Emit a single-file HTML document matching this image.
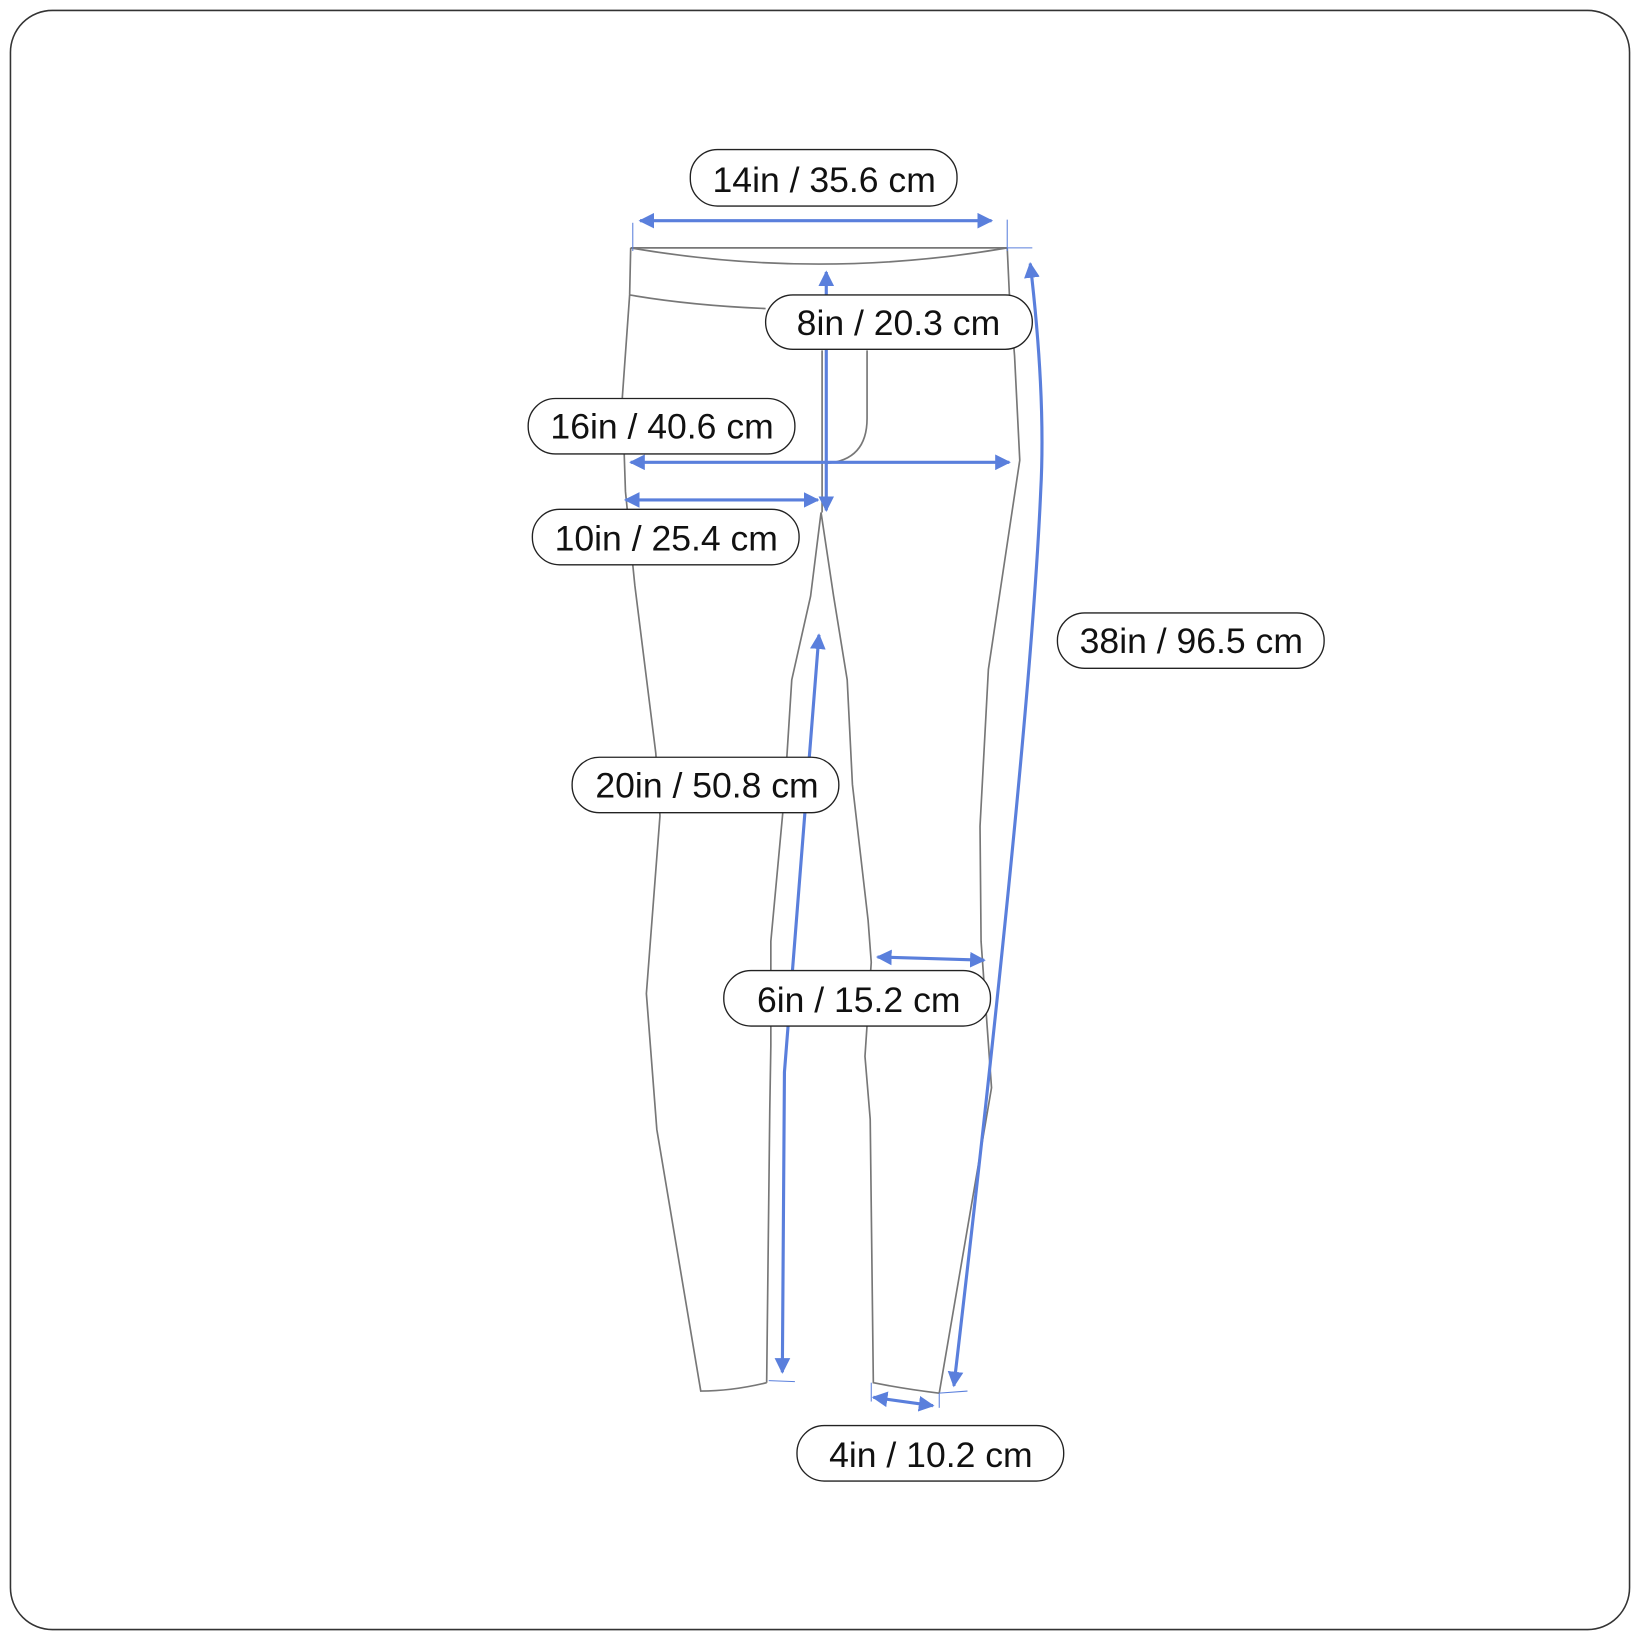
<!DOCTYPE html>
<html><head><style>
html,body{margin:0;padding:0;background:#fff;}
svg{display:block;}
text{font-family:"Liberation Sans",sans-serif;font-size:34px;fill:#111;text-anchor:middle;dominant-baseline:central;}
</style></head><body>
<svg width="1640" height="1640" viewBox="0 0 1568 1568" xmlns="http://www.w3.org/2000/svg">
<defs>
<marker id="a" viewBox="0 0 10 10" refX="9" refY="5" markerWidth="5" markerHeight="5" orient="auto-start-reverse" markerUnits="strokeWidth">
<path d="M0,0 L10,5 L0,10 z" fill="#5a7fdc"/></marker>
</defs>
<rect x="10" y="10" width="1548" height="1548" rx="40" fill="#fff" stroke="#333" stroke-width="1.5"/>
<g fill="none" stroke="#777" stroke-width="1.6">
<line x1="603" y1="237" x2="963" y2="237"/>
<path d="M603,237 Q783,268 963,237"/>
<path d="M603,237 L602,282 L595,380 L598,470 L607,560 L627,720 L631,780 L618,950 L628,1080 L670,1330 Q700,1330 733,1322"/>
<path d="M733,1322 L736,1060 L737,1000 L737,900 L750,760 L757,650 L775,570 L785,490 L797,570 L810,650 L815,750 L830,880 L833,920 L827,1010 L832,1070 L835,1322 Q865,1328 898,1332"/>
<path d="M898,1332 L948,1040 L938,900 L937,790 L945,640 L975,440 L970,340 L965,280 L963,237"/>
<path d="M602,282 Q660,292 732,295"/>
<line x1="786" y1="335" x2="786" y2="490"/>
<path d="M829,335 L829,400 Q829,440 790,443"/>
</g>
<g fill="none" stroke="#5a7fdc" stroke-width="3">
<line x1="612" y1="211" x2="948" y2="211" marker-start="url(#a)" marker-end="url(#a)"/>
<line x1="790" y1="260" x2="790" y2="488" marker-start="url(#a)" marker-end="url(#a)"/>
<line x1="603" y1="442" x2="965" y2="442" marker-start="url(#a)" marker-end="url(#a)"/>
<line x1="598" y1="478" x2="782" y2="478" marker-start="url(#a)" marker-end="url(#a)"/>
<path d="M985,252 Q1000,380 995,470 Q985,700 912,1325" marker-start="url(#a)" marker-end="url(#a)"/>
<path d="M783,607 L750,1025 L748,1312" marker-start="url(#a)" marker-end="url(#a)"/>
<line x1="839" y1="915" x2="941" y2="918" marker-start="url(#a)" marker-end="url(#a)"/>
<line x1="835" y1="1336" x2="892" y2="1344" marker-start="url(#a)" marker-end="url(#a)"/>
</g>
<g stroke="#5a7fdc" stroke-width="1">
<line x1="605" y1="213" x2="605" y2="240"/>
<line x1="963" y1="210" x2="963" y2="240"/>
<line x1="963" y1="237" x2="987" y2="237"/>
<line x1="898" y1="1332" x2="925" y2="1330"/>
<line x1="735" y1="1320" x2="760" y2="1321"/>
<line x1="833" y1="1322" x2="833" y2="1340"/>
<line x1="898" y1="1332" x2="898" y2="1346"/>
</g>
<g fill="#fff" stroke="#222" stroke-width="1.3">
<rect x="660" y="143" width="255" height="54" rx="26"/>
<rect x="732" y="282" width="255" height="52" rx="26"/>
<rect x="505" y="381" width="255" height="53" rx="26"/>
<rect x="509" y="487" width="255" height="53" rx="26"/>
<rect x="1011" y="586" width="255" height="53" rx="26"/>
<rect x="547" y="724" width="255" height="53" rx="26"/>
<rect x="692" y="928" width="255" height="53" rx="26"/>
<rect x="762" y="1363" width="255" height="53" rx="26"/>
</g>
<text x="788" y="172">14in / 35.6 cm</text>
<text x="859" y="309">8in / 20.3 cm</text>
<text x="633" y="408">16in / 40.6 cm</text>
<text x="637" y="515">10in / 25.4 cm</text>
<text x="1139" y="613">38in / 96.5 cm</text>
<text x="676" y="751">20in / 50.8 cm</text>
<text x="821" y="956">6in / 15.2 cm</text>
<text x="890" y="1391">4in / 10.2 cm</text>
</svg>
</body></html>
